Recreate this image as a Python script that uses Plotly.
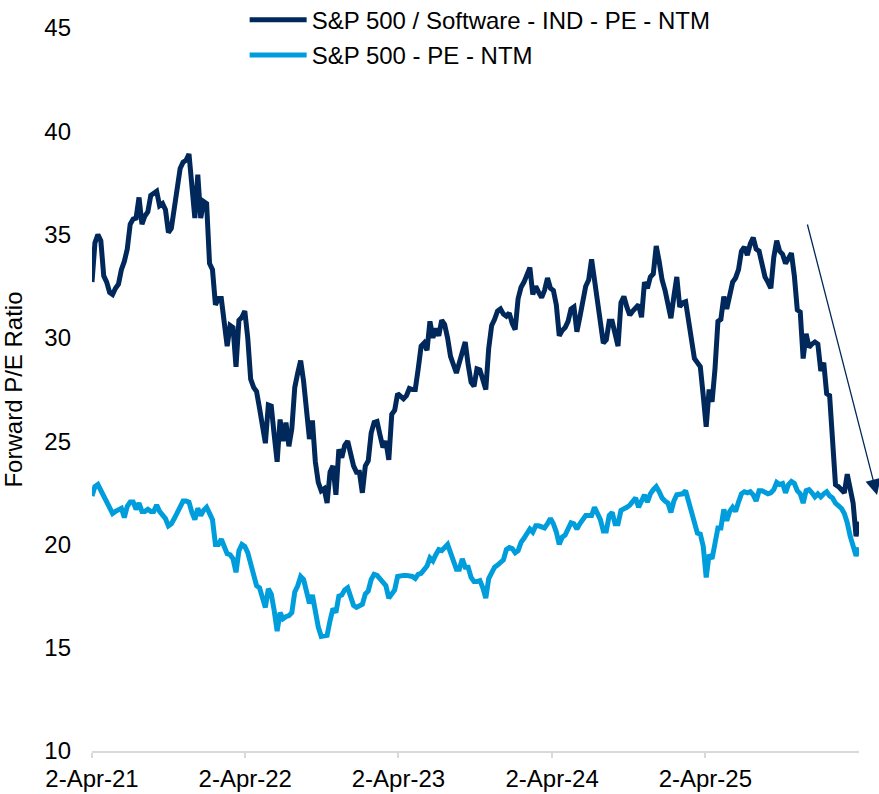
import pandas as pd
import plotly.graph_objects as go

# Weekly observations (Fridays) from 2-Apr-21
dates = pd.date_range("2021-04-02", periods=262, freq="7D")

series_names = ["S&P 500 / Software - IND - PE - NTM", "S&P 500 - PE - NTM"]

software_pe = [
    32.7, 34.6, 35.0, 34.7, 33.0, 32.7, 32.2, 32.1, 32.4, 32.6,
    33.3, 33.7, 34.3, 35.5, 35.75, 35.8, 36.8, 35.5, 35.9, 36.1,
    36.9, 37.0, 37.1, 36.4, 36.5, 36.2, 35.1, 35.3, 36.3, 37.3,
    38.2, 38.5, 38.6, 38.9, 37.0, 35.8, 37.9, 35.8, 36.6, 36.5,
    33.6, 33.3, 31.6, 31.9, 31.9, 30.9, 29.6, 30.6, 30.5, 28.6,
    30.85, 31.0, 31.3, 30.0, 28.0, 27.6, 27.4, 26.6, 25.8, 24.9,
    26.75, 26.7, 25.3, 24.0, 26.05, 25.0, 25.9, 24.75, 25.6, 27.6,
    28.3, 28.9, 27.9, 26.3, 25.1, 26.0, 24.0, 23.0, 22.6, 22.7,
    22.0, 23.5, 23.8, 22.4, 24.6, 24.2, 24.8, 25.0, 24.3, 23.8,
    23.5, 23.5, 22.5, 23.8, 24.05, 25.4, 25.9, 25.95, 25.3, 24.7,
    25.0, 24.1, 26.3, 26.5, 27.3, 27.2, 27.05, 27.2, 27.55, 27.5,
    27.5, 28.5, 29.6, 29.75, 29.4, 30.8, 30.0, 30.45, 30.1, 30.85,
    30.65, 30.0, 29.1, 28.7, 28.3, 28.8, 29.35, 29.8, 28.7, 27.85,
    27.65, 28.5, 28.45, 28.0, 27.5, 29.5, 30.6, 30.9, 31.3, 31.4,
    31.15, 31.05, 31.2, 30.7, 30.4, 31.9, 32.45, 32.7, 33.0, 33.4,
    32.1, 32.5, 32.2, 31.95, 32.3, 32.9, 32.4, 32.3, 31.6, 30.1,
    30.35, 30.5, 30.8, 31.4, 31.5, 30.3, 31.0, 31.9, 32.5, 32.8,
    33.8, 32.8, 31.7, 30.8, 29.75, 29.9, 30.8, 30.8, 30.2, 29.6,
    31.7, 32.0, 31.5, 31.1, 31.3, 31.45, 31.6, 31.0, 32.7, 32.4,
    32.95, 33.1, 34.45, 33.7, 32.8, 32.3, 31.6, 30.95, 32.0, 32.95,
    31.5, 31.7, 31.75, 30.8, 29.9, 29.0, 28.8, 28.6, 27.2, 25.7,
    27.5, 26.9, 28.5, 30.8, 30.9, 32.0, 31.4, 32.2, 32.7, 32.9,
    33.3, 34.2, 34.4, 34.0, 34.55, 34.85, 34.3, 34.2, 33.6, 32.95,
    32.7, 32.4, 33.9, 34.7, 34.2, 34.05, 33.6, 33.9, 34.1, 33.0,
    31.35, 31.25, 29.0, 30.2, 29.55, 29.7, 29.8, 29.7, 28.4, 28.8,
    27.3, 27.2, 24.6, 22.9, 22.8, 22.6, 22.5, 23.4, 22.6, 22.0,
    20.4, 21.1,
]

spx_pe = [
    22.35, 22.8, 22.9, 22.6, 22.3, 22.1, 21.7, 21.5, 21.6, 21.7,
    21.75, 21.3, 21.85, 22.05, 22.05, 21.7, 22.0, 21.6, 21.6, 21.7,
    21.6, 21.6, 21.9, 21.6, 21.45, 21.25, 20.9, 21.0, 21.25, 21.55,
    21.85, 22.1, 22.1, 22.05, 21.55, 21.2, 21.75, 21.4, 21.65, 21.8,
    21.5, 21.2, 20.0, 20.0, 20.25, 19.85, 19.55, 19.5, 19.3, 18.65,
    19.7, 20.0, 19.9, 19.6, 19.1, 18.6, 18.0, 17.9, 17.5, 16.95,
    17.85, 17.6, 16.8, 15.8, 16.7, 16.4, 16.5, 16.55, 16.7, 17.7,
    18.0, 18.45, 18.3, 17.75, 17.15, 17.55, 16.6, 16.0, 15.55, 15.6,
    15.6, 16.3, 16.9, 16.7, 17.5, 17.55, 17.8, 17.9, 17.5, 17.05,
    16.95, 17.0, 17.1, 17.6, 17.75, 18.3, 18.55, 18.5, 18.3, 18.15,
    18.0, 17.4, 17.6, 17.8, 18.45, 18.5, 18.5, 18.5, 18.5, 18.45,
    18.35, 18.55, 18.6, 18.75, 18.95, 19.35, 19.2, 19.5, 19.75, 19.7,
    19.9, 20.0, 19.6, 19.2, 18.8, 18.8, 19.3, 18.9, 18.9, 18.4,
    18.2, 18.2, 18.25, 17.9, 17.4, 18.35, 18.6, 18.9, 19.0, 19.1,
    19.25, 19.75, 19.85, 19.8, 19.6, 19.7, 20.1, 20.3, 20.55, 20.75,
    20.6, 20.9, 20.9, 20.85, 20.8, 21.0, 21.25, 21.0, 20.6, 20.0,
    20.35, 20.45, 20.7, 21.05, 21.0, 20.75, 21.0, 21.2, 21.4, 21.4,
    21.4, 21.8, 21.5, 21.2, 20.65, 20.65, 21.4, 21.55, 21.0, 21.0,
    21.65, 21.7, 21.8, 21.9, 22.1, 22.25, 21.8, 22.1, 22.4, 22.05,
    22.45, 22.65, 22.8, 22.55, 22.25, 22.1, 22.0, 21.55, 22.1, 22.4,
    22.4, 22.45, 22.6, 22.1, 21.6, 20.9, 20.55, 20.5, 19.9, 18.4,
    19.5, 19.3, 20.2, 20.8, 20.8, 21.7, 21.15, 21.6, 21.8, 21.6,
    22.05, 22.45, 22.55, 22.5, 22.55, 22.4, 22.1, 22.6, 22.6, 22.5,
    22.45, 22.5, 22.65, 23.0, 22.9, 22.95, 22.5, 22.9, 23.05, 22.95,
    22.6, 22.45, 22.0, 22.6, 22.65, 22.5, 22.3, 22.45, 22.3, 22.45,
    22.55, 22.35, 22.25, 22.0, 21.85, 21.75, 21.5, 21.05, 20.4, 19.8,
    19.45, 19.85,
]

x_tick_vals = ["2021-04-02", "2022-04-02", "2023-04-02", "2024-04-02", "2025-04-02"]
x_tick_text = ["2-Apr-21", "2-Apr-22", "2-Apr-23", "2-Apr-24", "2-Apr-25"]
y_tick_vals = [10, 15, 20, 25, 30, 35, 40, 45]

DARK = "#00285A"
LIGHT = "#009DDC"
FONT = "Liberation Sans, Arial, sans-serif"

fig = go.Figure()
fig.add_trace(go.Scatter(x=dates, y=software_pe, mode="lines", name=series_names[0],
                         legendgroup="a", line=dict(color=DARK, width=5)))
fig.add_trace(go.Scatter(x=dates, y=spx_pe, mode="lines", name=series_names[1],
                         legendgroup="b", line=dict(color=LIGHT, width=5)))

# downward trend arrow
fig.add_annotation(xref="paper", yref="paper", x=1.0235, y=0.3409,
                   ax=-70, ay=-272, axref="pixel", ayref="pixel",
                   showarrow=True, arrowhead=2, arrowsize=2.4, arrowwidth=1.3,
                   arrowcolor=DARK, text="")

fig.update_layout(
    width=879, height=794,
    margin=dict(l=92, r=20, t=0, b=43, autoexpand=False),
    paper_bgcolor="white", plot_bgcolor="white",
    font=dict(family=FONT, size=24, color="black"),
    showlegend=True,
    legend=dict(x=0.199, y=1.003, xanchor="left", yanchor="top",
                font=dict(size=24), itemwidth=57, bgcolor="rgba(0,0,0,0)",
                tracegroupgap=1),
    xaxis=dict(type="date", range=[dates[0], dates[-1]], automargin=False,
               tickvals=x_tick_vals, ticktext=x_tick_text,
               showgrid=False, showline=True, linecolor="#D9D9D9", linewidth=2,
               ticks="outside", ticklen=5, tickcolor="#D9D9D9", tickwidth=2,
               zeroline=False),
    yaxis=dict(range=[10, 45], tickvals=y_tick_vals, showgrid=False,
               domain=[0, 0.9627], automargin=False,
               showline=False, zeroline=False, ticks="", ticklabelstandoff=20,
               title=dict(text="Forward P/E Ratio", font=dict(size=24), standoff=14)),
)

fig.write_html("out.html", config={"displayModeBar": False})

# remove the default page margin so the figure fills the window exactly
with open("out.html", "r", encoding="utf-8") as f:
    html = f.read()
html = html.replace("<head>", "<head><style>html,body{margin:0;padding:0;overflow:hidden;}</style>", 1)
with open("out.html", "w", encoding="utf-8") as f:
    f.write(html)
